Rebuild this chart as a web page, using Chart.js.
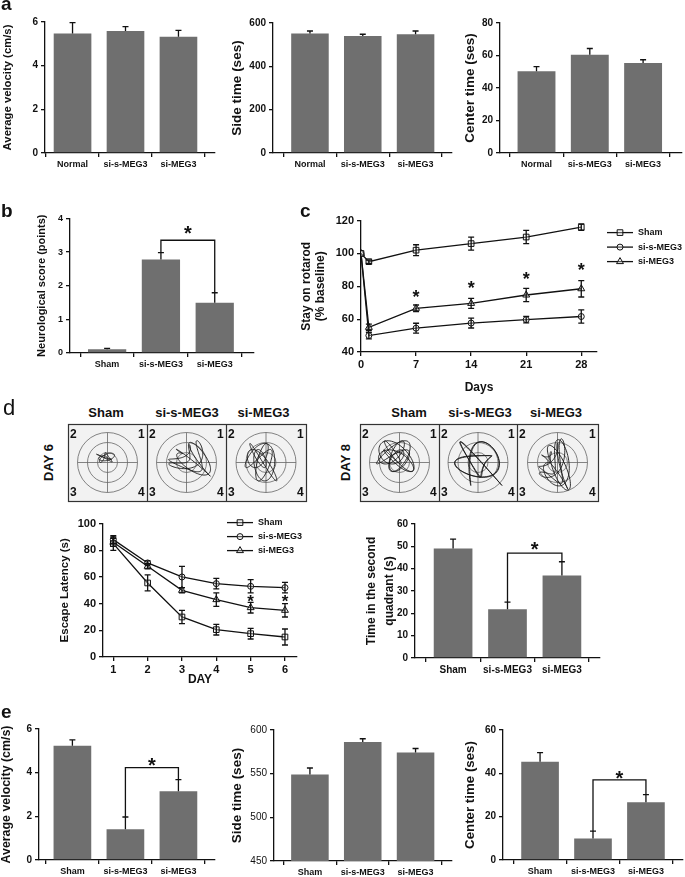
<!DOCTYPE html>
<html><head><meta charset="utf-8">
<script src="https://cdn.jsdelivr.net/npm/chart.js@4.4.1/dist/chart.umd.min.js"></script>
<style>
html,body{margin:0;padding:0;background:#fff;}
#page{position:relative;width:685px;height:877px;overflow:hidden;font-family:'Liberation Sans',Arial,Helvetica,sans-serif;color:#111;}
canvas{position:absolute;}
.t{position:absolute;font-weight:bold;line-height:1;white-space:nowrap;}
</style></head><body><div id="page"></div>
<script>
// ---------------- DATA ----------------
const catsA = ['Normal', 'si-s-MEG3', 'si-MEG3'];
const catsB = ['Sham', 'si-s-MEG3', 'si-MEG3'];
const seriesNames = ['Sham', 'si-s-MEG3', 'si-MEG3'];

const aVelocity = [5.47, 5.59, 5.32];
const aVelocityErr = [0.5, 0.2, 0.3];
const aSide = [551, 540, 548];
const aSideErr = [12, 8, 15];
const aCenter = [50.3, 60.5, 55.4];
const aCenterErr = [2.8, 3.8, 2.0];

const bScore = [0.11, 2.78, 1.49];
const bScoreErr = [0.03, 0.2, 0.3];

const cDays = [0, 1, 7, 14, 21, 28];
const cDayTicks = [0, 7, 14, 21, 28];
const cSham = [100, 95, 102, 106, 110, 116];
const cShamErr = [0, 1, 3.3, 4, 4, 2];
const cSiS = [100, 50, 54.5, 57.6, 59.7, 61.6];
const cSiSErr = [0, 2, 3, 3, 2, 4];
const cSi = [100, 55, 66.6, 69.6, 74.7, 78.5];
const cSiErr = [0, 2, 2, 3, 4, 5];
const cStarDays = [7, 14, 21, 28];
const cStarY = [76.3, 81.3, 87.3, 92.7];

const dDays = [1, 2, 3, 4, 5, 6];
const dSham = [85, 55.5, 30, 20.5, 17.5, 15];
const dShamErr = [5, 6, 5, 4, 4, 6];
const dSiS = [88, 70.5, 60, 55, 53, 52];
const dSiSErr = [3, 1.5, 8, 4, 5, 4];
const dSi = [86, 68, 50, 43, 37, 35];
const dSiErr = [3, 2, 2, 5, 4, 5];
const dStarDays = [5, 6];
const dStarY = [44.7, 44.4];

const dQuad = [49, 21.8, 36.9];
const dQuadErr = [4.2, 3.2, 6.2];

const eVelocity = [5.23, 1.41, 3.15];
const eVelocityErr = [0.27, 0.56, 0.53];
const eSide = [549, 586.4, 574.2];
const eSideErr = [7.5, 3.6, 4.6];
const eCenter = [45.3, 9.9, 26.7];
const eCenterErr = [4.3, 3.4, 3.5];

// ---------------- SETUP ----------------
const FONT = "'Liberation Sans', Arial, Helvetica, sans-serif";
Chart.defaults.font.family = FONT;
Chart.defaults.font.weight = 'bold';
Chart.defaults.color = '#111';
const page = document.getElementById('page');
const INK = '#111';
const BAR = '#6f6f6f';

function mkCanvas(L, T, R, B, g) {
  const c = document.createElement('canvas');
  const left = Math.round(L - g.wy), top = Math.round(T - g.pt);
  const w = Math.round(R + g.pr) - left, h = Math.round(B + g.hx) - top;
  c.width = w; c.height = h;
  c.style.left = left + 'px'; c.style.top = top + 'px';
  c.style.width = w + 'px'; c.style.height = h + 'px';
  page.appendChild(c);
  return c;
}

const errPlugin = {
  id: 'errbars',
  afterDatasetsDraw(chart) {
    const ctx = chart.ctx, ys = chart.scales.y;
    const isBar = chart.config.type === 'bar';
    chart.data.datasets.forEach((ds, di) => {
      if (!ds.errors) return;
      const meta = chart.getDatasetMeta(di);
      ctx.save();
      ctx.strokeStyle = INK; ctx.lineWidth = 1.3;
      meta.data.forEach((el, i) => {
        const e = ds.errors[i];
        if (!e) return;
        const v = ds.data[i].y;
        const x = el.x;
        const yTop = ys.getPixelForValue(v + e);
        const yBot = isBar ? ys.getPixelForValue(v) : ys.getPixelForValue(v - e);
        const cap = 3;
        ctx.beginPath();
        ctx.moveTo(x, yTop); ctx.lineTo(x, yBot);
        ctx.moveTo(x - cap, yTop); ctx.lineTo(x + cap, yTop);
        if (!isBar) { ctx.moveTo(x - cap, yBot); ctx.lineTo(x + cap, yBot); }
        ctx.stroke();
      });
      ctx.restore();
    });
  }
};

const markPlugin = {
  id: 'marks',
  afterDatasetsDraw(chart, args, opts) {
    const ctx = chart.ctx, xs = chart.scales.x, ys = chart.scales.y;
    ctx.save();
    ctx.strokeStyle = INK; ctx.fillStyle = INK; ctx.lineWidth = 1.3;
    (opts.brackets || []).forEach(b => {
      const x1 = xs.getPixelForValue(b.from), x2 = xs.getPixelForValue(b.to);
      const y = ys.getPixelForValue(b.y);
      ctx.beginPath();
      ctx.moveTo(x1, ys.getPixelForValue(b.fromY));
      ctx.lineTo(x1, y); ctx.lineTo(x2, y);
      ctx.lineTo(x2, ys.getPixelForValue(b.toY));
      ctx.stroke();
    });
    const size = opts.starSize || 18;
    ctx.font = 'bold ' + size + 'px ' + FONT;
    ctx.textAlign = 'center'; ctx.textBaseline = 'alphabetic';
    (opts.stars || []).forEach(s => {
      const x = xs.getPixelForValue(s.x), y = ys.getPixelForValue(s.y);
      ctx.fillText('*', x, y + 0.57 * size);
    });
    ctx.restore();
  }
};

function drawMarker(ctx, style, r, x, y) {
  if (Chart.helpers && Chart.helpers.drawPoint) {
    Chart.helpers.drawPoint(ctx, {pointStyle: style, radius: r, borderWidth: 1, rotation: 0}, x, y);
  }
}

const legendPlugin = {
  id: 'lineLegend',
  afterDraw(chart, args, opts) {
    if (!opts.show) return;
    const ctx = chart.ctx, a = chart.chartArea;
    ctx.save();
    chart.data.datasets.forEach((ds, i) => {
      const y = a.top + opts.dy + i * opts.gap;
      const x0 = opts.fromRight ? a.right + opts.dx : a.left + opts.dx;
      ctx.strokeStyle = INK; ctx.lineWidth = 1.3;
      ctx.beginPath(); ctx.moveTo(x0, y); ctx.lineTo(x0 + opts.len, y); ctx.stroke();
      ctx.fillStyle = 'rgba(235,235,235,0.35)'; ctx.strokeStyle = INK; ctx.lineWidth = 1;
      drawMarker(ctx, ds.pointStyle, ds.pointRadius, x0 + opts.len / 2, y);
      ctx.fillStyle = INK;
      ctx.font = 'bold ' + opts.size + 'px ' + FONT;
      ctx.textAlign = 'left'; ctx.textBaseline = 'middle';
      ctx.fillText(ds.label, x0 + opts.len + 5, y);
    });
    ctx.restore();
  }
};

function gridOpt() {
  return {drawOnChartArea: false, drawTicks: true, tickLength: 4, color: INK, lineWidth: 1.3};
}
function borderOpt() {
  return {display: true, color: INK, width: 1.3};
}

function barChart(c) {
  const g = {wy: c.wy, pt: 8, pr: c.pr || 4, hx: c.hx || 20};
  const cv = mkCanvas(c.L, c.T, c.R, c.B, g);
  return new Chart(cv, {
    type: 'bar',
    data: {datasets: [{
      data: c.vals.map((v, i) => ({x: i, y: v})),
      errors: c.errs,
      backgroundColor: BAR, borderWidth: 0,
      barPercentage: 0.9, categoryPercentage: 0.79
    }]},
    options: {
      responsive: false, animation: false, devicePixelRatio: 1,
      layout: {padding: {top: g.pt, right: g.pr, left: 0, bottom: 0}},
      plugins: {legend: {display: false}, tooltip: {enabled: false},
        marks: {brackets: c.brackets || [], stars: c.stars || [], starSize: c.starSize || 20}},
      scales: {
        x: {type: 'linear', min: c.xMin, max: c.xMax, offset: false,
          afterBuildTicks: ax => { ax.ticks = c.cats.map((n, i) => ({value: i})); },
          afterFit: s => { s.height = g.hx; },
          ticks: {callback: v => c.cats[v], font: {size: c.labSize || 9, weight: 'bold'}, padding: 2, maxRotation: 0, autoSkip: false, color: INK},
          grid: gridOpt(), border: borderOpt()},
        y: {min: c.yMin, max: c.yMax,
          afterFit: s => { s.width = g.wy; },
          ticks: {stepSize: c.yStep, font: {size: c.tickSize || 10, weight: c.tickWeight || 'bold'}, padding: 3, color: INK},
          title: {display: true, text: c.title, font: {size: c.titleSize, weight: 'bold', lineHeight: c.titleLH || 1.2}, padding: 0, color: INK},
          grid: gridOpt(), border: borderOpt()}
      }
    },
    plugins: [errPlugin, markPlugin]
  });
}

function lineDs(label, xs, ys, errs, style, r) {
  return {label, data: xs.map((x, i) => ({x, y: ys[i]})), errors: errs,
    borderColor: INK, borderWidth: 1.3, pointStyle: style, pointRadius: r,
    pointBackgroundColor: 'rgba(235,235,235,0.35)', pointBorderColor: INK, pointBorderWidth: 1,
    tension: 0, fill: false};
}

function lineChart(c) {
  const g = {wy: c.wy, pt: 8, pr: c.pr, hx: c.hx};
  const cv = mkCanvas(c.L, c.T, c.R, c.B, g);
  return new Chart(cv, {
    type: 'line',
    data: {datasets: c.datasets},
    options: {
      responsive: false, animation: false, devicePixelRatio: 1,
      layout: {padding: {top: g.pt, right: g.pr, left: 0, bottom: 0}},
      plugins: {legend: {display: false}, tooltip: {enabled: false},
        marks: {stars: c.stars, starSize: c.starSize},
        lineLegend: c.legend},
      scales: {
        x: {type: 'linear', min: c.xMin, max: c.xMax,
          afterBuildTicks: ax => { ax.ticks = c.xTicks.map(v => ({value: v})); },
          afterFit: s => { s.height = g.hx; },
          ticks: {font: {size: c.tickSize, weight: 'bold'}, padding: 2, maxRotation: 0, autoSkip: false, color: INK},
          title: {display: true, text: c.xTitle, font: {size: 12, weight: 'bold'}, padding: 0, color: INK},
          grid: gridOpt(), border: borderOpt()},
        y: {min: c.yMin, max: c.yMax,
          afterFit: s => { s.width = g.wy; },
          ticks: {stepSize: c.yStep, font: {size: c.tickSize, weight: 'bold'}, padding: 3, color: INK},
          title: {display: true, text: c.title, font: {size: c.titleSize, weight: 'bold', lineHeight: 1.2}, padding: 0, color: INK},
          grid: gridOpt(), border: borderOpt()}
      }
    },
    plugins: [errPlugin, markPlugin, legendPlugin]
  });
}

// ---------------- PANEL a ----------------
barChart({L: 45, T: 21, R: 215, B: 153, wy: 44, cats: catsA, vals: aVelocity, errs: aVelocityErr,
  yMin: 0, yMax: 6, yStep: 2, xMin: -0.52, xMax: 2.69, title: 'Average velocity (cm/s)', titleSize: 11.3});
barChart({L: 273, T: 22, R: 452, B: 153, wy: 44, cats: catsA, vals: aSide, errs: aSideErr,
  yMin: 0, yMax: 600, yStep: 200, xMin: -0.70, xMax: 2.69, title: 'Side time (ses)', titleSize: 13.5});
barChart({L: 500, T: 22, R: 682, B: 153, wy: 38, pr: 2, cats: catsA, vals: aCenter, errs: aCenterErr,
  yMin: 0, yMax: 80, yStep: 20, xMin: -0.685, xMax: 2.73, title: 'Center time (ses)', titleSize: 13.5});

// ---------------- PANEL b ----------------
barChart({L: 70, T: 218, R: 254, B: 353, wy: 35, cats: catsB, vals: bScore, errs: bScoreErr,
  yMin: 0, yMax: 4, yStep: 1, xMin: -0.69, xMax: 2.73, title: 'Neurological score (points)', titleSize: 11, tickSize: 9,
  brackets: [{from: 1, to: 2, y: 3.35, fromY: 2.98, toY: 1.79}], stars: [{x: 1.5, y: 3.7}]});

// ---------------- PANEL c ----------------
lineChart({L: 361, T: 219, R: 597, B: 352, wy: 62, pr: 85, hx: 43,
  datasets: [
    lineDs(seriesNames[0], cDays, cSham, cShamErr, 'rect', 4),
    lineDs(seriesNames[1], cDays, cSiS, cSiSErr, 'circle', 3),
    lineDs(seriesNames[2], cDays, cSi, cSiErr, 'triangle', 4)
  ],
  xMin: 0, xMax: 30, xTicks: cDayTicks, xTitle: 'Days', yMin: 40, yMax: 120, yStep: 20,
  title: ['Stay on rotarod', '(% baseline)'], titleSize: 12, tickSize: 11,
  stars: cStarDays.map((d, i) => ({x: d, y: cStarY[i]})), starSize: 18,
  legend: {show: true, fromRight: true, dx: 10, dy: 12, gap: 14.5, len: 26, size: 9}});

// ---------------- PANEL d (charts) ----------------
lineChart({L: 103, T: 522, R: 298, B: 657, wy: 45, pr: 4, hx: 30,
  datasets: [
    lineDs(seriesNames[0], dDays, dSham, dShamErr, 'rect', 4),
    lineDs(seriesNames[1], dDays, dSiS, dSiSErr, 'circle', 3),
    lineDs(seriesNames[2], dDays, dSi, dSiErr, 'triangle', 4)
  ],
  xMin: 0.7, xMax: 6.35, xTicks: dDays, xTitle: 'DAY', yMin: 0, yMax: 100, yStep: 20,
  title: 'Escape Latency (s)', titleSize: 11.5, tickSize: 11,
  stars: dStarDays.map((d, i) => ({x: d, y: dStarY[i]})), starSize: 17,
  legend: {show: true, fromRight: false, dx: 124, dy: -1, gap: 14, len: 26, size: 9}});

barChart({L: 415, T: 523, R: 600, B: 658, wy: 52, cats: catsB, vals: dQuad, errs: dQuadErr,
  yMin: 0, yMax: 60, yStep: 10, xMin: -0.70, xMax: 2.70, title: ['Time in the second', 'quadrant (s)'], titleSize: 12, titleLH: 1.5,
  labSize: 10, tickSize: 10,
  brackets: [{from: 1, to: 2, y: 47, fromY: 25, toY: 43.1}], stars: [{x: 1.5, y: 51}]});

// ---------------- PANEL e ----------------
barChart({L: 39, T: 728, R: 215, B: 860, wy: 40, hx: 17, cats: catsB, vals: eVelocity, errs: eVelocityErr,
  yMin: 0, yMax: 6, yStep: 2, xMin: -0.63, xMax: 2.69, title: 'Average velocity (cm/s)', titleSize: 12.4,
  brackets: [{from: 1, to: 2, y: 4.23, fromY: 1.97, toY: 3.68}], stars: [{x: 1.5, y: 4.55}]});
barChart({L: 274, T: 729, R: 452, B: 861, wy: 45, hx: 16, cats: catsB, vals: eSide, errs: eSideErr,
  yMin: 450, yMax: 600, yStep: 50, xMin: -0.68, xMax: 2.69, title: 'Side time (ses)', titleSize: 13.5, tickWeight: 'normal'});
barChart({L: 503, T: 729, R: 683, B: 860, wy: 41, pr: 2, hx: 17, cats: catsB, vals: eCenter, errs: eCenterErr,
  yMin: 0, yMax: 60, yStep: 20, xMin: -0.70, xMax: 2.70, title: 'Center time (ses)', titleSize: 13.3,
  brackets: [{from: 1, to: 2, y: 37, fromY: 13.3, toY: 30.2}], stars: [{x: 1.5, y: 40}]});

// ---------------- TEXT LABELS ----------------
function txt(s, left, top, size, extra) {
  const d = document.createElement('div');
  d.className = 't'; d.textContent = s;
  d.style.left = left + 'px'; d.style.top = top + 'px'; d.style.fontSize = size + 'px';
  if (extra) Object.assign(d.style, extra);
  page.appendChild(d);
  return d;
}
function ctxt(s, cx, cy, size, extra) { // centred text
  const d = txt(s, cx - 60, cy - size / 2, size, Object.assign({width: '120px', textAlign: 'center', lineHeight: size + 'px'}, extra || {}));
  return d;
}
txt('a', 1, -6, 19);
txt('b', 1, 201, 19);
txt('c', 300, 201, 19);
txt('d', 3, 397, 22, {fontWeight: 'normal'});
txt('e', 1, 702, 19);

// arena column titles
[[106, 'Sham'], [187, 'si-s-MEG3'], [263.5, 'si-MEG3'], [409, 'Sham'], [480, 'si-s-MEG3'], [556, 'si-MEG3']]
  .forEach(([x, s]) => ctxt(s, x, 412, 13));
ctxt('DAY 6', 48, 462, 13, {transform: 'rotate(-90deg)'});
ctxt('DAY 8', 345, 462, 13, {transform: 'rotate(-90deg)'});

// ---------------- PANEL d (water-maze arenas, schematic) ----------------
const groups = [[68, 147, 226, 306], [360, 439, 517, 598]];
const boxTop = 424, boxBot = 501;
const av = document.createElement('canvas');
av.width = 685; av.height = 100; av.style.left = '0px'; av.style.top = '410px';
page.appendChild(av);
const actx = av.getContext('2d');
const oy = 410;
// schematic swim paths (decorative)
const pathsCfg = [
  [[-2, -5, 9, 5, 3, 5, 0.4]], [[3, -4, 22, 18, 3, 7, 1.1]], [[-5, -2, 16, 21, 5, 3, 2.0]],
  [[-4, -6, 19, 17, 7, 4, 0.7]], [[0, 0, 24, 23, 5, 8, 1.6]], [[-3, 2, 16, 26, 4, 9, 2.4]]
];
let cellIdx = 0;
groups.forEach(gx => {
  for (let k = 0; k < 3; k++) {
    const x0 = gx[k], x1 = gx[k + 1];
    actx.fillStyle = '#f2f2f2';
    actx.fillRect(x0, boxTop - oy, x1 - x0, boxBot - boxTop);
    const cx = (x0 + x1) / 2, cy = (boxTop + boxBot) / 2 - oy;
    actx.strokeStyle = '#666'; actx.lineWidth = 0.8;
    [30, 20, 10].forEach(r => { actx.beginPath(); actx.arc(cx, cy, r, 0, Math.PI * 2); actx.stroke(); });
    actx.beginPath();
    actx.moveTo(cx - 30, cy); actx.lineTo(cx + 30, cy);
    actx.moveTo(cx, cy - 30); actx.lineTo(cx, cy + 30);
    actx.stroke();
    // decorative swim path
    const p = pathsCfg[cellIdx][0];
    actx.strokeStyle = '#1a1a1a'; actx.lineWidth = 0.9;
    actx.beginPath();
    const N = 400;
    for (let j = 0; j <= N; j++) {
      const t = j / N * Math.PI * 2;
      const x = cx + p[0] + p[2] * (0.65 * Math.sin(p[4] * t + p[6]) + 0.35 * Math.cos(p[5] * t));
      const y = cy + p[1] + p[3] * (0.65 * Math.cos((p[4] + 1) * t) + 0.35 * Math.sin(p[5] * t + p[6]));
      if (j === 0) actx.moveTo(x, y); else actx.lineTo(x, y);
    }
    actx.stroke();
    cellIdx++;
    // quadrant numbers
    txt('2', x0 + 2, 428, 12);
    txt('1', x1 - 9, 428, 12);
    txt('3', x0 + 2, 486, 12);
    txt('4', x1 - 9, 486, 12);
  }
  actx.strokeStyle = '#333'; actx.lineWidth = 1.2;
  actx.strokeRect(gx[0] + 0.5, boxTop - oy + 0.5, gx[3] - gx[0], boxBot - boxTop);
  actx.beginPath();
  actx.moveTo(gx[1] + 0.5, boxTop - oy); actx.lineTo(gx[1] + 0.5, boxBot - oy);
  actx.moveTo(gx[2] + 0.5, boxTop - oy); actx.lineTo(gx[2] + 0.5, boxBot - oy);
  actx.stroke();
});
</script></body></html>
